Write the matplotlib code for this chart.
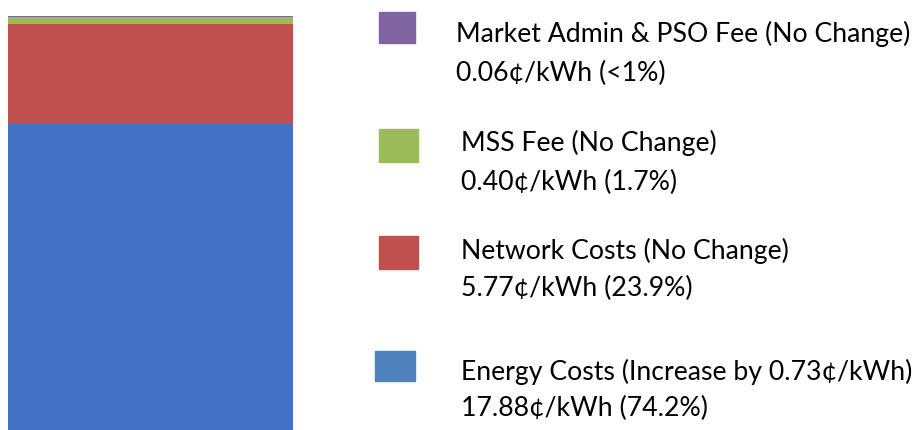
import matplotlib.pyplot as plt
from matplotlib.patches import Rectangle

# ── Data (¢/kWh) ──────────────────────────────────────────────
components = ["Energy Costs", "Network Costs", "MSS Fee", "Market Admin & PSO Fee"]
values     = [17.88, 5.77, 0.40, 0.06]
line1      = ["Energy Costs (Increase by 0.73¢/kWh)",
              "Network Costs (No Change)",
              "MSS Fee (No Change)",
              "Market Admin & PSO Fee (No Change)"]
line2      = ["17.88¢/kWh (74.2%)",
              "5.77¢/kWh (23.9%)",
              "0.40¢/kWh (1.7%)",
              "0.06¢/kWh (<1%)"]
bar_colors = ["#4472C4", "#C0504D", "#9BBB59", "#8064A2"]
key_colors = ["#4F81BD", "#C0504D", "#9BBB59", "#8064A2"]

W, H = 916, 431
plt.rcParams['font.family'] = ['Lato', 'DejaVu Sans']
fig = plt.figure(figsize=(W / 100, H / 100), dpi=100)
fig.patch.set_facecolor('white')

# ── Stacked bar ───────────────────────────────────────────────
total = sum(values)
ax = fig.add_axes([8.3 / W, 0, (293 - 8.3) / W, 1])
bottom = 0
for v, c in zip(values, bar_colors):
    ax.bar(0, v, bottom=bottom, width=1.0, color=c, edgecolor='none')
    bottom += v
ax.set_xlim(-0.5, 0.5)
ax.set_ylim(0, total * H / 414)
ax.axis('off')

# ── Manual legend (top to bottom) ─────────────────────────────
# (square x0, y0, x1, y1, text x, line1 y, line2 y) in pixels
key_pos = [(375, 352, 415, 382, 461, 372, 408),
           (379, 237, 418, 270, 461, 251, 288),
           (379, 130, 418, 163, 461, 143, 182),
           (379, 13, 415, 44, 456, 34, 73)]
for (x0, y0, x1, y1, tx, ty1, ty2), c, t1, t2 in zip(key_pos, key_colors, line1, line2):
    fig.patches.append(Rectangle((x0 / W, 1 - y1 / H), (x1 - x0) / W, (y1 - y0) / H,
                                 transform=fig.transFigure, color=c))
    fig.text(tx / W, 1 - ty1 / H, t1, fontsize=19.2, va='center', ha='left', color='black')
    fig.text(tx / W, 1 - ty2 / H, t2, fontsize=19.2, va='center', ha='left', color='black')

fig.savefig("out.png", dpi=100, facecolor='white')
